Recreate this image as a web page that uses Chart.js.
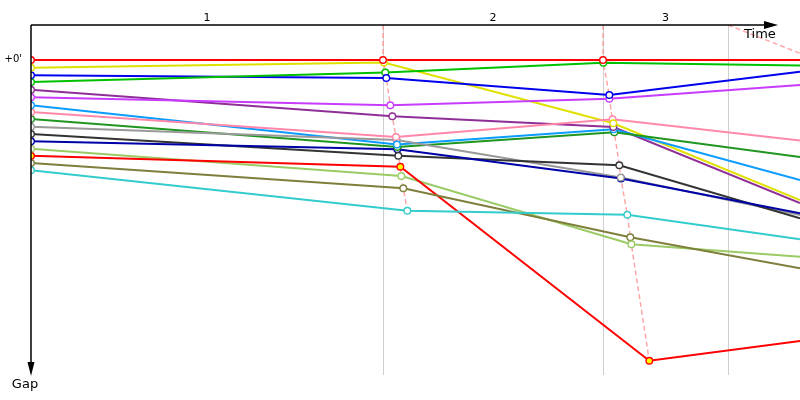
<!DOCTYPE html>
<html>
<head>
<meta charset="utf-8">
<script src="https://cdn.jsdelivr.net/npm/chart.js@4/dist/chart.umd.min.js"></script>
<style>
html,body{margin:0;padding:0;background:#fff;}
canvas{display:block;}
</style>
</head>
<body>
<canvas id="c" width="800" height="400"></canvas>
<script>
// ---- data (time units on x, gap units on y) ----
const lapLabels = ['1', '2', '3'];
const lapStartTimes = [0, 88, 143, 174.25];
const lap3LeaderTime = 196.5;
const edgeTime = 192.25;
const yTickLabel = "+0'";

// driver order: red, yellow, blue, green, purple, violet, lightblue, pink,
// darkgreen, gray, black, navy, lightgreen, red2, olive, cyan
const startGap = [0, 0.31, 0.61, 0.88, 1.19, 1.49, 1.81, 2.08, 2.36, 2.67, 2.96, 3.25, 3.55, 3.83, 4.12, 4.41];
const lap1Time = [88, 88.25, 88.83, 88.58, 90.33, 89.83, 91.5, 91.25, 91.58, 91.42, 91.83, 91.58, 92.58, 92.33, 93.08, 94.08];
const lap1Gap  = [0, 0.1, 0.72, 0.5, 2.25, 1.81, 3.38, 3.08, 3.48, 3.2, 3.83, 3.57, 4.64, 4.27, 5.13, 6.03];
const lap2Time = [143, 145.58, 144.58, 143.08, 145.58, 144.58, 145.68, 145.38, 145.83, 147.45, 147.08, 147.5, 150.08, 154.58, 149.83, 149.08];
const lap2Gap  = [0, 2.53, 1.4, 0.11, 2.68, 1.55, 2.77, 2.37, 2.89, 4.7, 4.21, 4.74, 7.37, 12.03, 7.09, 6.19];
const edgeGap  = [0, 5.6, 0.47, 0.22, 5.72, 1.0, 4.8, 3.22, 3.88, 6.2, 6.33, 6.13, 7.87, 11.24, 8.33, 7.17];

// ---- styles ----
const colors = ['#ff0000', '#e0e000', '#0000ee', '#00c000', '#8e2e96', '#c83cff', '#0a9cff', '#ff88aa',
                '#1f961f', '#999999', '#333333', '#0000a8', '#9acb64', '#ff0000', '#7f7f3c', '#33cccc'];
const fills = colors.map((c, i) => i === 13 ? '#ffff00' : '#ffffff');
const Y_MIN = -1.4, Y_MAX = 12.6, X_MIN = 0, X_MAX = edgeTime;

const datasets = [];
// points layer (on top)
colors.forEach((c, i) => {
  datasets.push({
    data: [{x: 0, y: startGap[i]}, {x: lap1Time[i], y: lap1Gap[i]}, {x: lap2Time[i], y: lap2Gap[i]}],
    showLine: false,
    pointRadius: 3.3,
    pointBorderWidth: 1.4,
    pointBorderColor: c,
    pointBackgroundColor: fills[i],
    order: 1
  });
});
// driver lines
colors.forEach((c, i) => {
  datasets.push({
    data: [{x: 0, y: startGap[i]}, {x: lap1Time[i], y: lap1Gap[i]}, {x: lap2Time[i], y: lap2Gap[i]}, {x: edgeTime, y: edgeGap[i]}],
    borderColor: c,
    borderWidth: 2,
    pointRadius: 0,
    tension: 0,
    order: 2 + (15 - i) * 0.01
  });
});
// lap connector dashed lines
function lapLine(times, gaps, topTime) {
  const idx = times.map((t, i) => i).sort((a, b) => gaps[a] - gaps[b]);
  return [{x: topTime, y: Y_MIN}].concat(idx.map(i => ({x: times[i], y: gaps[i]})));
}
const dashStyle = {borderColor: 'rgba(255,140,140,0.8)', borderWidth: 1.4, borderDash: [5, 3], pointRadius: 0, tension: 0, order: 5};
datasets.push(Object.assign({data: lapLine(lap1Time, lap1Gap, lapStartTimes[1])}, dashStyle));
datasets.push(Object.assign({data: lapLine(lap2Time, lap2Gap, lapStartTimes[2])}, dashStyle));
datasets.push(Object.assign({data: [{x: lapStartTimes[3], y: Y_MIN}, {x: lap3LeaderTime, y: 0}]}, dashStyle));

const FONT = '"DejaVu Sans", Verdana, sans-serif';
const decor = {
  id: 'decor',
  beforeDatasetsDraw(chart) {
    const {ctx, chartArea: a, scales: {x, y}} = chart;
    ctx.save();
    ctx.strokeStyle = '#cfcfcf';
    ctx.lineWidth = 1;
    for (let i = 1; i < lapStartTimes.length; i++) {
      const px = Math.round(x.getPixelForValue(lapStartTimes[i])) + 0.5;
      ctx.beginPath(); ctx.moveTo(px, a.top); ctx.lineTo(px, a.bottom); ctx.stroke();
    }
    ctx.restore();
  },
  afterDraw(chart) {
    const {ctx, chartArea: a, scales: {x, y}} = chart;
    ctx.save();
    ctx.strokeStyle = '#000'; ctx.fillStyle = '#000'; ctx.lineWidth = 1.5;
    const ax = x.getPixelForValue(X_MIN), ay = y.getPixelForValue(Y_MIN);
    // x axis arrow
    ctx.beginPath(); ctx.moveTo(ax, ay); ctx.lineTo(766, ay); ctx.stroke();
    ctx.beginPath(); ctx.moveTo(778, ay); ctx.lineTo(764, ay - 4); ctx.lineTo(764, ay + 4); ctx.closePath(); ctx.fill();
    // y axis arrow
    ctx.beginPath(); ctx.moveTo(ax, ay); ctx.lineTo(ax, a.bottom - 12); ctx.stroke();
    ctx.beginPath(); ctx.moveTo(ax, a.bottom + 1); ctx.lineTo(ax - 3.5, a.bottom - 13); ctx.lineTo(ax + 3.5, a.bottom - 13); ctx.closePath(); ctx.fill();
    // axis titles
    ctx.font = '13px ' + FONT;
    ctx.textBaseline = 'middle';
    ctx.textAlign = 'left';
    ctx.fillText('Time', 744, 35);
    ctx.textAlign = 'center';
    ctx.fillText('Gap', ax - 6, 385);
    // lap labels
    ctx.font = '11px ' + FONT;
    for (let i = 0; i < lapLabels.length; i++) {
      const mid = (x.getPixelForValue(lapStartTimes[i]) + x.getPixelForValue(lapStartTimes[i + 1])) / 2;
      ctx.fillText(lapLabels[i], mid, ay - 7);
    }
    // y tick label
    ctx.font = '10px ' + FONT;
    ctx.textAlign = 'right';
    ctx.fillText(yTickLabel, ax - 9, y.getPixelForValue(0) - 1);
    ctx.restore();
  }
};

new Chart(document.getElementById('c'), {
  type: 'line',
  data: {datasets},
  options: {
    responsive: false,
    animation: false,
    events: [],
    layout: {autoPadding: false, padding: {left: 31, top: 25, right: 0, bottom: 25}},
    plugins: {legend: {display: false}, tooltip: {enabled: false}, title: {display: false}},
    scales: {
      x: {type: 'linear', min: X_MIN, max: X_MAX, display: false},
      y: {type: 'linear', min: Y_MIN, max: Y_MAX, reverse: true, display: false}
    }
  },
  plugins: [decor]
});
</script>
</body>
</html>
